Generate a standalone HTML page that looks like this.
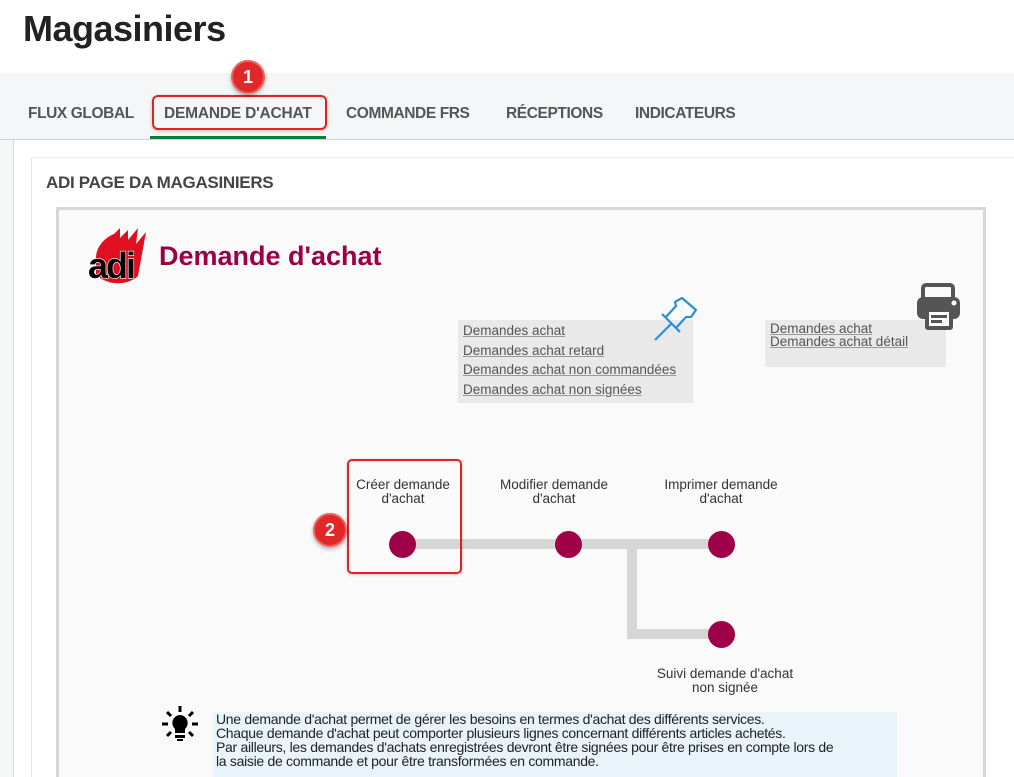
<!DOCTYPE html>
<html style="width:1014px;height:777px;overflow:hidden"><head><meta charset="utf-8"><style>
*{margin:0;padding:0;box-sizing:border-box}
body{width:1014px;height:777px;overflow:hidden;background:#fff;font-family:"Liberation Sans",Arial,sans-serif;position:relative}
.a{position:absolute}
.tab{position:absolute;top:105px;font-size:15.5px;font-weight:bold;color:#555;letter-spacing:-0.4px}
.lk{position:absolute;left:5px;font-size:13.5px;color:#555;text-decoration:underline;text-decoration-color:#999;white-space:nowrap}
.lbl{position:absolute;font-size:13.5px;color:#333;text-align:center;line-height:14px;width:160px}
.dot{position:absolute;width:27px;height:27px;border-radius:50%;background:#a00048}
.badge{position:absolute;width:34px;height:34px;border-radius:50%;background:#e0282a;border:2px solid #f06060;color:#fff;font-weight:bold;font-size:18px;text-align:center;line-height:30px;box-shadow:0 2px 4px rgba(0,0,0,.3)}
</style></head><body>
<div class="a" style="left:23px;top:8px;font-size:36px;font-weight:bold;color:#222;letter-spacing:-0.5px">Magasiniers</div>
<div class="a" style="left:0;top:73px;width:1014px;height:704px;background:#f5f6f7"></div>
<div class="a" style="left:0;top:139px;width:1014px;height:1px;background:#d0d3d6"></div>
<div class="tab" style="left:28px">FLUX GLOBAL</div>
<div class="tab" style="left:164px;letter-spacing:-0.2px">DEMANDE D'ACHAT</div>
<div class="tab" style="left:346px">COMMANDE FRS</div>
<div class="tab" style="left:506px">RÉCEPTIONS</div>
<div class="tab" style="left:635px">INDICATEURS</div>
<div class="a" style="left:150px;top:136px;width:176px;height:3px;background:#0e7a3e"></div>
<div class="a" style="left:152px;top:95px;width:175px;height:35px;border:2px solid #e52020;border-radius:6px;box-shadow:0 1px 3px rgba(0,0,0,.25)"></div>
<div class="badge" style="left:231px;top:60px">1</div>
<div class="a" style="left:13px;top:140px;width:1001px;height:637px;background:#fff;border-left:1px solid #d6d8da"></div>
<div class="a" style="left:31px;top:157px;width:983px;height:620px;background:#fff;border-left:1px solid #e4e4e4;border-top:1px solid #eee"></div>
<div class="a" style="left:46px;top:173px;font-size:17px;font-weight:bold;color:#444;letter-spacing:-0.3px">ADI PAGE DA MAGASINIERS</div>
<div class="a" style="left:56px;top:207px;width:930px;height:570px;background:#fafafa;border:3px solid #d6d6d6;border-bottom:none"></div>
<svg class="a" style="left:86px;top:224px" width="72" height="64" viewBox="0 0 72 64">
<path d="M10 40 C8 24 18 14 28 10 L34 4 L34 14 L42 6 L42 16 L52 4 L50 20 L60 8 L56 30 L52 52 C42 62 20 62 10 50Z" fill="#e01020"/>
<text x="2" y="54" font-family="Liberation Sans" font-weight="bold" font-size="36" fill="#000" stroke="#fff" stroke-width="1.2" paint-order="stroke" letter-spacing="-2">adi</text>
</svg>
<div class="a" style="left:159px;top:241px;font-size:27px;font-weight:bold;color:#9b0046">Demande d'achat</div>
<div class="a" style="left:458px;top:320px;width:235px;height:83px;background:#e9e9e9">
<div class="lk" style="top:3px">Demandes achat</div>
<div class="lk" style="top:23px">Demandes achat retard</div>
<div class="lk" style="top:42px">Demandes achat non commandées</div>
<div class="lk" style="top:62px">Demandes achat non signées</div>
</div>
<svg class="a" style="left:640px;top:290px" width="70" height="60" viewBox="0 0 70 60">
<path d="M15 50 L32 33 M22 24 L40 42 M25 28 L36 16 L35 12 L42 8 L56 20 L51 27 L46 27 L36 38" fill="none" stroke="#2a8fd8" stroke-width="2.2" stroke-linejoin="round"/>
</svg>
<div class="a" style="left:765px;top:320px;width:181px;height:47px;background:#e9e9e9">
<div class="lk" style="top:2px;line-height:13px">Demandes achat</div>
<div class="lk" style="top:15px;line-height:13px">Demandes achat détail</div>
</div>
<svg class="a" style="left:915px;top:283px" width="48" height="50" viewBox="0 0 48 50">
<rect x="8" y="2" width="30" height="16" rx="3" fill="none" stroke="#555" stroke-width="4"/>
<rect x="2" y="14" width="43" height="22" rx="6" fill="#555"/>
<circle cx="39" cy="20" r="2.5" fill="#fff"/>
<rect x="10" y="25" width="28" height="22" rx="3" fill="#555"/>
<rect x="14" y="29" width="20" height="14" fill="#fff"/>
<rect x="16" y="32" width="16" height="3" fill="#555"/>
<rect x="16" y="37" width="11" height="3" fill="#555"/>
</svg>
<div class="a" style="left:402px;top:539px;width:320px;height:10px;background:#d6d6d6"></div>
<div class="a" style="left:627px;top:539px;width:10px;height:100px;background:#d6d6d6"></div>
<div class="a" style="left:627px;top:629px;width:95px;height:10px;background:#d6d6d6"></div>
<div class="dot" style="left:389px;top:531px"></div>
<div class="dot" style="left:555px;top:531px"></div>
<div class="dot" style="left:708px;top:531px"></div>
<div class="dot" style="left:708px;top:621px"></div>
<div class="lbl" style="left:323px;top:478px">Créer demande<br>d'achat</div>
<div class="lbl" style="left:474px;top:478px">Modifier demande<br>d'achat</div>
<div class="lbl" style="left:641px;top:478px">Imprimer demande<br>d'achat</div>
<div class="lbl" style="left:645px;top:667px">Suivi demande d'achat<br>non signée</div>
<div class="a" style="left:347px;top:459px;width:115px;height:115px;border:2px solid #e52020;border-radius:5px;box-shadow:0 1px 3px rgba(0,0,0,.2)"></div>
<div class="badge" style="left:313px;top:513px">2</div>
<svg class="a" style="left:160px;top:704px" width="40" height="40" viewBox="0 0 40 40">
<path d="M20 2v6 M7 8l4 4 M33 8l-4 4 M2 20h6 M32 20h6 M7 32l4-4 M33 32l-4-4" stroke="#000" stroke-width="3"/>
<path d="M20 11a8 8 0 0 0-5 14v4h10v-4a8 8 0 0 0-5-14z" fill="#000"/>
<rect x="15" y="31" width="10" height="3" fill="#000"/><rect x="17" y="35" width="6" height="2" fill="#000"/>
</svg>
<div class="a" style="left:213px;top:712px;width:684px;height:65px;background:#e8f4fa;font-size:14px;color:#222;line-height:14px;padding:0 0 0 3px;letter-spacing:-0.3px;white-space:nowrap">Une demande d'achat permet de gérer les besoins en termes d'achat des différents services.<br>Chaque demande d'achat peut comporter plusieurs lignes concernant différents articles achetés.<br>Par ailleurs, les demandes d'achats enregistrées devront être signées pour être prises en compte lors de<br>la saisie de commande et pour être transformées en commande.</div>
</body></html>
